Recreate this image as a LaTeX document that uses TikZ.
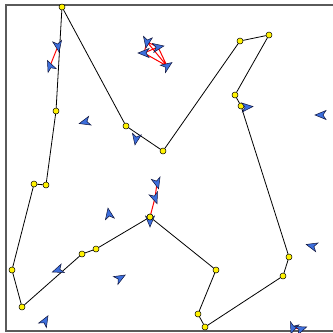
\documentclass[tikz,border=0pt]{standalone}
\begin{document}
\begin{tikzpicture}[x=1pt,y=-1pt,
  vtx/.style={circle,fill=yellow,draw=black,line width=0.5pt,inner sep=0pt,minimum size=6pt},
  edge/.style={draw=black,line width=0.8pt},
  link/.style={draw=red,line width=1pt},
  boidstyle/.style={fill={rgb,255:red,60;green,110;blue,220},draw={rgb,255:red,15;green,20;blue,60},line width=0.5pt,line join=miter},
  boid/.pic={\filldraw[boidstyle] (6,0) -- (-5,4.5) -- (-2,0) -- (-5,-4.5) -- cycle;}]
\fill[white] (0,0) rectangle (333,333);
\useasboundingbox (0,0) rectangle (333,333);
\draw[line width=1.2pt,draw={rgb,255:red,90;green,90;blue,90}] (334,5) -- (6,5) -- (6,331) -- (334,331);
% boid positions
\coordinate (b1) at (58,46);
\coordinate (b2) at (50,66);
\coordinate (b3a) at (147,42);
\coordinate (b3b) at (144,53);
\coordinate (b3c) at (158,47);
\coordinate (b3d) at (167,66);
\coordinate (b4) at (85,122);
\coordinate (b5) at (136,139);
\coordinate (b6) at (247,107);
\coordinate (b7) at (321,115);
\coordinate (b8) at (109,214);
\coordinate (b9) at (58,270);
\coordinate (b10) at (120,278);
\coordinate (b11) at (45,321);
\coordinate (b12) at (312,246);
\coordinate (b13) at (150,221);
\coordinate (b14a) at (157,183);
\coordinate (b14b) at (155,198);
\coordinate (b15a) at (293,328);
\coordinate (b15b) at (301,329);
% path vertices
\node[vtx] (A) at (62,7) {};
\node[vtx] (B) at (56,111) {};
\node[vtx] (C) at (126,126) {};
\node[vtx] (D) at (163,151) {};
\node[vtx] (E) at (240,41) {};
\node[vtx] (F) at (269,35) {};
\node[vtx] (G) at (235,95) {};
\node[vtx] (H) at (241,106) {};
\node[vtx] (I) at (289,257) {};
\node[vtx] (J) at (283,276) {};
\node[vtx] (K) at (205,327) {};
\node[vtx] (L) at (198,314) {};
\node[vtx] (M) at (216,270) {};
\node[vtx] (N) at (150,217) {};
\node[vtx] (O) at (96,249) {};
\node[vtx] (P) at (82,254) {};
\node[vtx] (Q) at (22,307) {};
\node[vtx] (R) at (12,270) {};
\node[vtx] (S) at (34,184) {};
\node[vtx] (T) at (46,185) {};
\draw[edge] (A) -- (C) -- (D) -- (E) -- (F) -- (G) -- (H) -- (I) -- (J) -- (K) -- (L) -- (M) -- (N) -- (O) -- (P) -- (Q) -- (R) -- (S) -- (T) -- (B) -- (A);
% red links
\draw[link] (b1) -- (b2);
\draw[link] (b3a) -- (b3c) (b3a) -- (b3d) (b3b) -- (b3c) (b3b) -- (b3d) (b3c) -- (b3d) (b3a) -- (b3b);
\draw[link] (N) -- (b14b) -- (b14a);
\draw[link] (b15a) -- (b15b);
% boids
\path (b1) pic[rotate=-80]{boid};
\path (b2) pic[rotate=115]{boid};
\path (b3a) pic[rotate=-100]{boid};
\path (b3b) pic[rotate=180]{boid};
\path (b3c) pic[rotate=10]{boid};
\path (b3d) pic[rotate=35]{boid};
\path (b4) pic[rotate=195]{boid};
\path (b5) pic[rotate=-100]{boid};
\path (b6) pic[rotate=5]{boid};
\path (b7) pic[rotate=180]{boid};
\path (b8) pic[rotate=100]{boid};
\path (b9) pic[rotate=200]{boid};
\path (b10) pic[rotate=30]{boid};
\path (b11) pic[rotate=60]{boid};
\path (b12) pic[rotate=165]{boid};
\path (b13) pic[rotate=-90]{boid};
\path (b14a) pic[rotate=-75]{boid};
\path (b14b) pic[rotate=-70]{boid};
\path (b15a) pic[rotate=-110]{boid};
\path (b15b) pic[rotate=20]{boid};
% redraw vertex N on top
\node[vtx] at (N) {};
\end{tikzpicture}
\end{document}
